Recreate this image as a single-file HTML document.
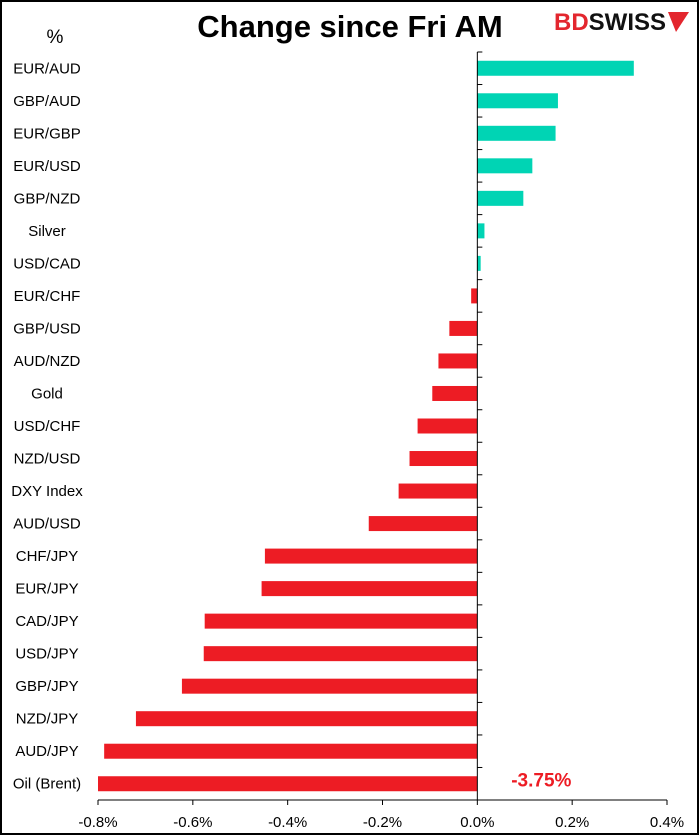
<!DOCTYPE html>
<html><head><meta charset="utf-8"><style>
body{margin:0;background:#fff}
svg{display:block;font-family:"Liberation Sans",Arial,sans-serif}
</style></head><body>
<svg width="700" height="836" id="c">
<rect x="1" y="1" width="697" height="833" fill="#fff" stroke="#000" stroke-width="2"/>
<text x="350" y="37" text-anchor="middle" font-size="31" font-weight="bold">Change since Fri AM</text>
<text x="55" y="43" text-anchor="middle" font-size="19">%</text>
<g>
<text x="554" y="30" font-size="24" font-weight="bold" fill="#e3262e">BD<tspan fill="#111">SWISS</tspan></text>
<polygon points="668,12 689,12 676,32" fill="#e3262e"/>
</g>
<g id="bars"></g>
<g id="axes"></g>
</svg>
<script>
const categories=["EUR/AUD","GBP/AUD","EUR/GBP","EUR/USD","GBP/NZD","Silver","USD/CAD","EUR/CHF","GBP/USD","AUD/NZD","Gold","USD/CHF","NZD/USD","DXY Index","AUD/USD","CHF/JPY","EUR/JPY","CAD/JPY","USD/JPY","GBP/JPY","NZD/JPY","AUD/JPY","Oil (Brent)"];
const values=[0.33,0.17,0.165,0.116,0.097,0.015,0.007,-0.013,-0.059,-0.082,-0.095,-0.126,-0.143,-0.166,-0.229,-0.448,-0.455,-0.575,-0.577,-0.623,-0.72,-0.787,-3.75];
const tickValues=[-0.8,-0.6,-0.4,-0.2,0,0.2,0.4];
const tickLabels=["-0.8%","-0.6%","-0.4%","-0.2%","0.0%","0.2%","0.4%"];
const NS="http://www.w3.org/2000/svg";
const xMin=-0.8,xMax=0.4,plotLeft=98,plotRight=667,plotTop=52,plotBottom=800;
const x=v=>plotLeft+(Math.max(xMin,Math.min(xMax,v))-xMin)/(xMax-xMin)*(plotRight-plotLeft);
const band=(plotBottom-plotTop)/categories.length;
const y=i=>plotTop+band*(i+0.5);
function mk(t,a,p){const e=document.createElementNS(NS,t);for(const k in a)e.setAttribute(k,a[k]);p.appendChild(e);return e;}
const bars=document.getElementById('bars'),axes=document.getElementById('axes');
categories.forEach((c,i)=>{
  const v=values[i],x0=x(0),x1=x(v);
  const r=mk('rect',{x:Math.min(x0,x1),y:y(i)-7.5,width:Math.abs(x1-x0),height:15,fill:v>=0?'#00d4b4':'#ed1c24'},bars);
  
  
  const t=mk('text',{x:47,y:y(i)+5,'text-anchor':'middle','font-size':15},axes);
  t.textContent=c;
  
  
  if(v<xMin){
    const l=mk('text',{x:x(0)+64,y:y(i)+3,'text-anchor':'middle','font-size':19,'font-weight':'bold',fill:'#ed1c24'},axes);
    l.textContent=v.toFixed(2)+'%';
    
    
  }
});
for(let i=0;i<=categories.length;i++){
  const tk=mk('line',{x1:x(0),x2:x(0)+5,y1:plotTop+band*i,y2:plotTop+band*i,stroke:'#000'},axes);
  
  
}
const za=mk('line',{x1:x(0),x2:x(0),y1:plotTop,y2:plotBottom,stroke:'#000'},axes);


const xa=mk('line',{x1:plotLeft,x2:plotRight,y1:plotBottom,y2:plotBottom,stroke:'#000'},axes);


tickValues.forEach((v,i)=>{
  const tl=mk('line',{x1:x(v),x2:x(v),y1:plotBottom,y2:plotBottom+5,stroke:'#000'},axes);
  
  
  const t=mk('text',{x:x(v),y:827,'text-anchor':'middle','font-size':15},axes);
  t.textContent=tickLabels[i];
  
  
});
</script>
</body></html>
